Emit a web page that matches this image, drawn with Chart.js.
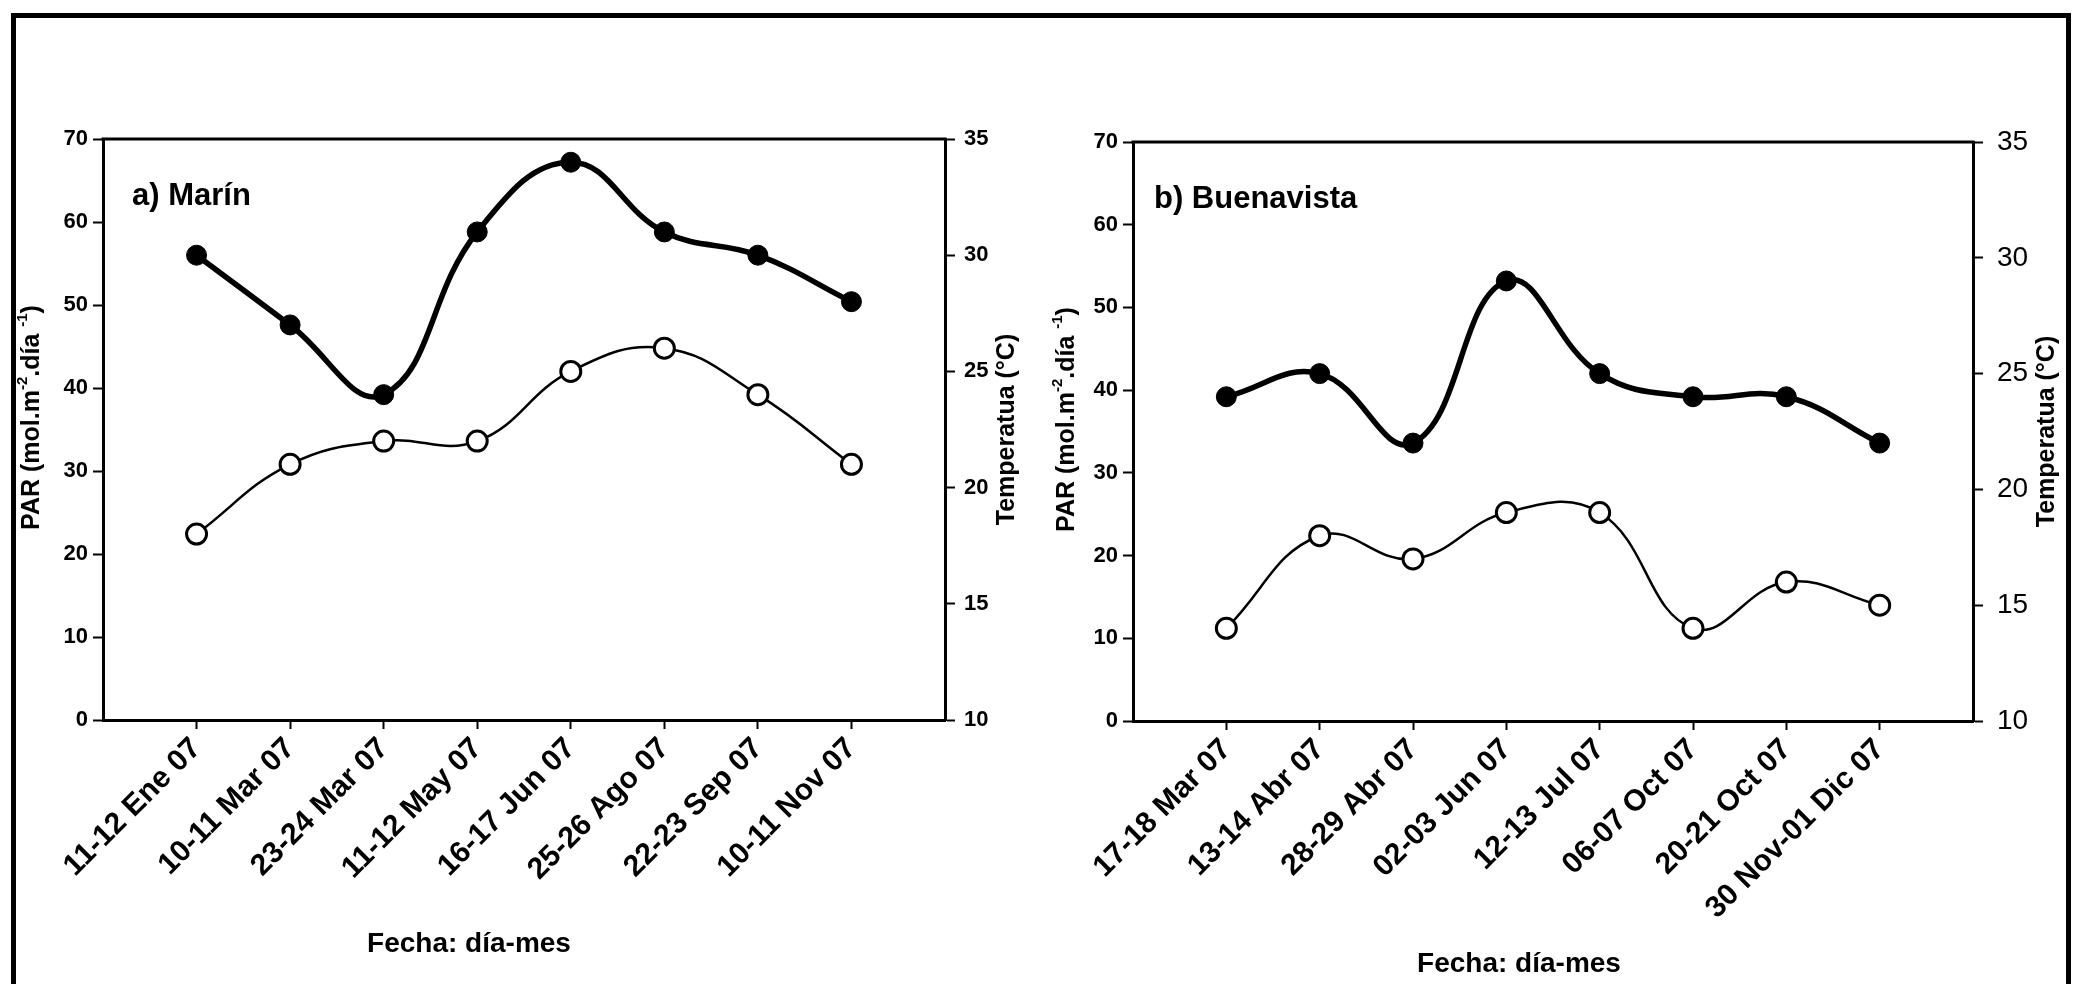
<!DOCTYPE html>
<html>
<head>
<meta charset="utf-8">
<script src="https://cdn.jsdelivr.net/npm/chart.js@4.4.0/dist/chart.umd.min.js"></script>
<style>
  html, body { margin: 0; padding: 0; background: #fff; width: 2080px; height: 984px; overflow: hidden; }
  #frame { position: absolute; left: 11px; top: 13px; width: 2050px; height: 1100px; border: 5px solid #000; }
  canvas { position: absolute; top: 0; }
  #chartA { left: 0; }
  #chartB { left: 1050px; }
</style>
</head>
<body>
<div id="frame"></div>
<canvas id="chartA" width="1050" height="984"></canvas>
<canvas id="chartB" width="1030" height="984"></canvas>
<script>
// a) Marín
const marinDates = ['11-12 Ene 07', '10-11 Mar 07', '23-24 Mar 07', '11-12 May 07', '16-17 Jun 07', '25-26 Ago 07', '22-23 Sep 07', '10-11 Nov 07'];
const marinFilled = [30, 27, 24, 31, 34, 31, 30, 28];
const marinOpen = [18, 21, 22, 22, 25, 26, 24, 21];

// b) Buenavista
const buenaDates = ['17-18 Mar 07', '13-14 Abr 07', '28-29 Abr 07', '02-03 Jun 07', '12-13 Jul 07', '06-07 Oct 07', '20-21 Oct 07', '30 Nov-01 Dic 07'];
const buenaFilled = [24, 25, 22, 29, 25, 24, 24, 22];
const buenaOpen = [14, 18, 17, 19, 19, 14, 16, 15];

// axes
const parTicks = [0, 10, 20, 30, 40, 50, 60, 70];
const tempTicks = [10, 15, 20, 25, 30, 35];

const FONT = "'Liberation Sans', Arial, sans-serif";

// draws a rotated (bottom-to-top) title, parts may be superscripts
function drawVertical(ctx, parts, x, y, size) {
  ctx.save();
  ctx.translate(x, y);
  ctx.rotate(-Math.PI / 2);
  ctx.textBaseline = 'middle';
  ctx.textAlign = 'left';
  const supSize = Math.round(size * 0.6);
  let w = 0;
  parts.forEach(p => {
    ctx.font = 'bold ' + (p.sup ? supSize : size) + 'px ' + FONT;
    p.w = ctx.measureText(p.t).width;
    w += p.w;
  });
  let cx = -w / 2;
  parts.forEach(p => {
    ctx.font = 'bold ' + (p.sup ? supSize : size) + 'px ' + FONT;
    ctx.fillText(p.t, cx, p.sup ? -size * 0.38 : 0);
    cx += p.w;
  });
  ctx.restore();
}

const decor = {
  id: 'decor',
  afterDraw(chart, args, o) {
    const ctx = chart.ctx;
    const a = chart.chartArea;
    ctx.save();
    // top frame line of the plot
    ctx.strokeStyle = '#000';
    ctx.lineWidth = 3;
    ctx.beginPath();
    ctx.moveTo(a.left - 1.5, a.top);
    ctx.lineTo(a.right + 1.5, a.top);
    ctx.stroke();

    ctx.fillStyle = '#000';
    ctx.textAlign = 'left';
    ctx.textBaseline = 'alphabetic';
    ctx.font = 'bold 31px ' + FONT;
    ctx.fillText(o.panel, a.left + o.panelDx, a.top + 66);

    ctx.textAlign = 'center';
    ctx.textBaseline = 'middle';
    ctx.font = 'bold 28px ' + FONT;
    ctx.fillText('Fecha: día-mes', a.left + o.xTitleDx, a.bottom + o.xTitleDy);

    const cy = (a.top + a.bottom) / 2;
    drawVertical(ctx, [{t: 'PAR (mol.m'}, {t: '-2', sup: true}, {t: '.día '}, {t: '-1', sup: true}, {t: ')'}],
      a.left + o.leftTitleDx, cy - 12, 25);
    drawVertical(ctx, [{t: 'Temperatua (°C)'}], a.right + o.rightTitleDx, cy, 25);
    ctx.restore();
  }
};

function axisBase() {
  return {
    grid: { drawOnChartArea: false, tickLength: 10, tickWidth: 2, tickColor: '#000' },
    border: { display: true, color: '#000', width: 3 }
  };
}

function makeChart(id, dates, filled, open, g) {
  const ctx = document.getElementById(id).getContext('2d');
  const boldTick = { family: FONT, size: 22, weight: 'bold' };

  new Chart(ctx, {
    type: 'line',
    data: {
      datasets: [{
        data: filled.map((v, i) => ({ x: i + 1, y: v })),
        yAxisID: 'y2',
        borderColor: '#000',
        borderWidth: 5.5,
        pointRadius: 10,
        pointBackgroundColor: '#000',
        pointBorderColor: '#000',
        pointBorderWidth: 1,
        tension: 0.42
      }, {
        data: open.map((v, i) => ({ x: i + 1, y: v })),
        yAxisID: 'y2',
        borderColor: '#000',
        borderWidth: 2.5,
        pointRadius: 10,
        pointBackgroundColor: '#fff',
        pointBorderColor: '#000',
        pointBorderWidth: 3,
        tension: 0.42
      }]
    },
    options: {
      responsive: false,
      animation: false,
      layout: { padding: { top: g.top, left: 0, right: 0, bottom: 0 } },
      plugins: {
        legend: { display: false },
        tooltip: { enabled: false },
        decor: g.decor
      },
      scales: {
        x: Object.assign(axisBase(), {
          type: 'linear',
          position: 'bottom',
          min: 0,
          max: dates.length + 1,
          afterBuildTicks: s => { s.ticks = dates.map((d, i) => ({ value: i + 1 })); },
          afterFit: s => { s.height = g.xHeight; },
          grid: { drawOnChartArea: false, tickLength: 9, tickWidth: 2, tickColor: '#000' },
          ticks: {
            autoSkip: false,
            minRotation: 45,
            maxRotation: 45,
            padding: 2,
            color: '#000',
            font: { family: FONT, size: 30, weight: 'bold' },
            callback: v => dates[v - 1]
          }
        }),
        y: Object.assign(axisBase(), {
          position: 'left',
          min: parTicks[0],
          max: parTicks[parTicks.length - 1],
          afterBuildTicks: s => { s.ticks = parTicks.map(v => ({ value: v })); },
          afterFit: s => { s.width = g.leftWidth; },
          ticks: { padding: 5, color: '#000', font: boldTick }
        }),
        y2: Object.assign(axisBase(), {
          position: 'right',
          min: tempTicks[0],
          max: tempTicks[tempTicks.length - 1],
          afterBuildTicks: s => { s.ticks = tempTicks.map(v => ({ value: v })); },
          afterFit: s => { s.width = g.rightWidth; },
          ticks: { padding: g.rightPad, color: '#000', font: g.rightFont }
        })
      }
    },
    plugins: [decor]
  });
}

makeChart('chartA', marinDates, marinFilled, marinOpen, {
  top: 139, xHeight: 264, leftWidth: 103, rightWidth: 105, rightPad: 9,
  rightFont: { family: FONT, size: 22, weight: 'bold' },
  decor: { panel: 'a) Marín', panelDx: 29, xTitleDx: 366, xTitleDy: 224, leftTitleDx: -71, rightTitleDx: 62 }
});

makeChart('chartB', buenaDates, buenaFilled, buenaOpen, {
  top: 142, xHeight: 263, leftWidth: 83, rightWidth: 107, rightPad: 14,
  rightFont: { family: FONT, size: 28, weight: 'normal' },
  decor: { panel: 'b) Buenavista', panelDx: 21, xTitleDx: 386, xTitleDy: 243, leftTitleDx: -66, rightTitleDx: 74 }
});
</script>
</body>
</html>
